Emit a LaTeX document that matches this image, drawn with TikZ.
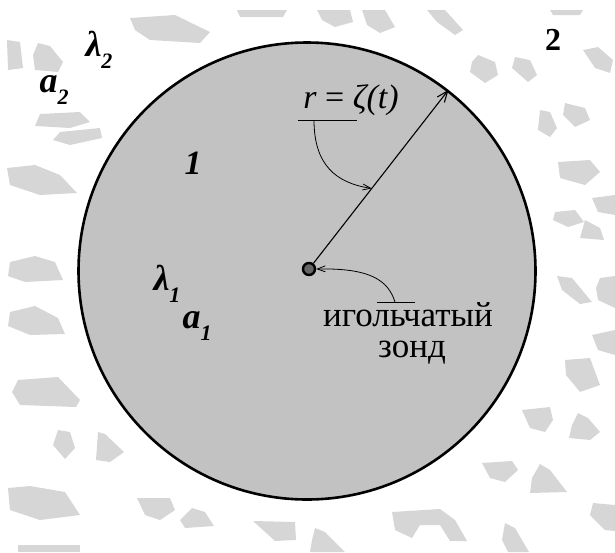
\documentclass[tikz,border=0pt]{standalone}
\usepackage{fontspec}
\setmainfont{Liberation Serif}
\usetikzlibrary{arrows.meta, calc}
\newcommand\lowidx[1]{\raisebox{-0.32em}{\fontsize{22}{22}\selectfont #1}}
\tikzset{
  every node/.style={font=\fontsize{34}{34}\selectfont},
  blob/.style={fill=black!16, draw=none},
  zonebox/.style={
    circle, draw=black, line width=2.6pt, fill=black!24,
    minimum size=457pt, inner sep=0pt
  },
  probedot/.style={
    circle, draw=black, line width=2.4pt, fill=black!60,
    minimum size=12pt, inner sep=0pt
  },
  varlabel/.style={font=\fontsize{36}{36}\selectfont\bfseries\itshape, inner sep=0pt},
  numlabel/.style={font=\fontsize{32}{32}\selectfont\bfseries, inner sep=0pt},
  probetext/.style={font=\fontsize{35}{35}\selectfont, inner sep=0pt, anchor=base},
  radarr/.style={-{Straight Barb[length=11pt,width=9pt]}, line width=1.1pt},
  pointer/.style={-{Straight Barb[length=8pt,width=6pt]}, line width=0.8pt},
  bar/.style={line width=0.9pt},
}

\begin{document}
\begin{tikzpicture}[x=1pt, y=-1pt]
    \useasboundingbox (0,0) rectangle (615,552);

    % Medium 2: scattered grains
    \fill[blob] (130,18) -- (175,15) -- (210,32) -- (200,43) -- (150,40) -- (135,30) -- cycle;
    \fill[blob] (237,10) -- (287,10) -- (283,17) -- (240,17) -- cycle;
    \fill[blob] (317,10) -- (350,10) -- (353,22) -- (335,27) -- (322,20) -- cycle;
    \fill[blob] (362,10) -- (385,10) -- (395,27) -- (380,33) -- (367,25) -- cycle;
    \fill[blob] (427,10) -- (445,10) -- (463,30) -- (455,35) -- (437,22) -- cycle;
    \fill[blob] (550,10) -- (583,10) -- (580,15) -- (553,15) -- cycle;
    \fill[blob] (478,55) -- (495,62) -- (498,75) -- (485,83) -- (470,72) -- (472,62) -- cycle;
    \fill[blob] (515,57) -- (530,60) -- (537,75) -- (528,82) -- (512,68) -- cycle;
    \fill[blob] (583,50) -- (598,47) -- (613,60) -- (610,73) -- (595,68) -- cycle;
    \fill[blob] (540,110) -- (550,112) -- (557,128) -- (550,137) -- (538,130) -- cycle;
    \fill[blob] (565,103) -- (585,108) -- (590,120) -- (575,127) -- (563,115) -- cycle;
    \fill[blob] (7,40) -- (20,42) -- (23,68) -- (8,70) -- cycle;
    \fill[blob] (38,43) -- (50,46) -- (63,62) -- (58,72) -- (35,70) -- (33,55) -- cycle;
    \fill[blob] (40,114) -- (80,112) -- (90,122) -- (70,128) -- (35,126) -- cycle;
    \fill[blob] (60,132) -- (100,128) -- (102,138) -- (70,145) -- (53,140) -- cycle;
    \fill[blob] (7,168) -- (35,165) -- (60,175) -- (77,193) -- (40,195) -- (10,185) -- cycle;
    \fill[blob] (558,162) -- (590,160) -- (600,172) -- (585,185) -- (560,178) -- cycle;
    \fill[blob] (592,198) -- (615,195) -- (615,215) -- (598,212) -- cycle;
    \fill[blob] (555,212) -- (575,210) -- (584,222) -- (568,227) -- (553,220) -- cycle;
    \fill[blob] (585,220) -- (600,228) -- (604,240) -- (580,238) -- cycle;
    \fill[blob] (10,262) -- (35,256) -- (55,262) -- (63,280) -- (25,282) -- (8,276) -- cycle;
    \fill[blob] (10,312) -- (35,306) -- (58,318) -- (65,334) -- (30,335) -- (8,326) -- cycle;
    \fill[blob] (557,276) -- (572,278) -- (592,302) -- (580,304) -- (562,290) -- cycle;
    \fill[blob] (600,278) -- (615,276) -- (615,308) -- (598,300) -- (596,288) -- cycle;
    \fill[blob] (592,335) -- (615,330) -- (615,355) -- (598,350) -- cycle;
    \fill[blob] (565,360) -- (590,358) -- (600,385) -- (580,392) -- (566,375) -- cycle;
    \fill[blob] (18,380) -- (58,377) -- (80,400) -- (76,407) -- (20,405) -- (12,392) -- cycle;
    \fill[blob] (58,430) -- (70,432) -- (75,448) -- (65,459) -- (53,445) -- cycle;
    \fill[blob] (98,432) -- (105,434) -- (124,452) -- (110,462) -- (96,460) -- cycle;
    \fill[blob] (8,488) -- (30,486) -- (65,492) -- (80,515) -- (40,520) -- (10,510) -- cycle;
    \fill[blob] (137,498) -- (170,498) -- (175,510) -- (160,520) -- (145,515) -- cycle;
    \fill[blob] (192,508) -- (205,512) -- (214,526) -- (185,528) -- (180,520) -- cycle;
    \fill[blob] (253,521) -- (295,522) -- (296,540) -- (275,541) -- cycle;
    \fill[blob] (315,528) -- (325,532) -- (345,552) -- (310,552) -- (312,540) -- cycle;
    \fill[blob] (392,512) -- (440,509) -- (455,520) -- (467,541) -- (450,541) -- (440,525)
      -- (420,525) -- (412,538) -- (395,530) -- cycle;
    \fill[blob] (505,523) -- (515,528) -- (529,552) -- (508,552) -- (502,540) -- cycle;
    \fill[blob] (522,410) -- (550,407) -- (553,420) -- (545,432) -- (530,428) -- cycle;
    \fill[blob] (578,413) -- (588,418) -- (600,432) -- (590,440) -- (569,438) -- (572,425) -- cycle;
    \fill[blob] (482,463) -- (512,461) -- (518,470) -- (505,482) -- (490,478) -- cycle;
    \fill[blob] (540,464) -- (550,470) -- (567,492) -- (530,493) -- (532,478) -- cycle;
    \fill[blob] (593,503) -- (615,505) -- (615,531) -- (605,530) -- (590,515) -- cycle;
    \fill[blob] (18,545) -- (80,545) -- (80,552) -- (18,552) -- cycle;

    % Medium 1 and the probe
    \node[zonebox] (zone) at (307,271) {};
    \node[probedot] (probe) at (309,269) {};

    % Radius
    \draw[radarr] (probe) -- (zone.52.5);
    \coordinate (rhit) at ($(probe)!0.45!(zone.52.5)$);

    % Labels of the media
    \node[numlabel, font=\fontsize{34}{34}\selectfont\bfseries\itshape] (one) at (193,163) {1};
    \node[numlabel] (two) at (553,40) {2};
    \node[varlabel] (lamone) at (167,284) {λ\lowidx{1}};
    \node[varlabel] (aone) at (197,326) {a\lowidx{1}};
    \node[varlabel] (lamtwo) at (99,50) {λ\lowidx{2}};
    \node[varlabel] (atwo) at (54,90) {a\lowidx{2}};

    % Radius label
    \node[font=\fontsize{34}{34}\selectfont] (rlabel) at (351,100) {\textit{r} = \textit{ζ(t)}};
    \coordinate (rbarL) at (298,120);
    \coordinate (rbarR) at (357,120);
    \coordinate (rbar) at (314,120);
    \draw[bar] (rbarL) -- (rbarR);
    \draw[pointer] (rbar) .. controls (314,165) and (336,183) .. (rhit);

    % Probe label
    \node[probetext] (probename) at (408,326) {игольчатый};
    \node[probetext] (probenametwo) at (412,357) {зонд};
    \coordinate (pbarL) at (377,302);
    \coordinate (pbarR) at (415,302);
    \coordinate (pbar) at (395,302);
    \draw[bar] (pbarL) -- (pbarR);
    \draw[pointer] (pbar) .. controls (388,280) and (370,268) .. (probe.east);

\end{tikzpicture}
\end{document}
